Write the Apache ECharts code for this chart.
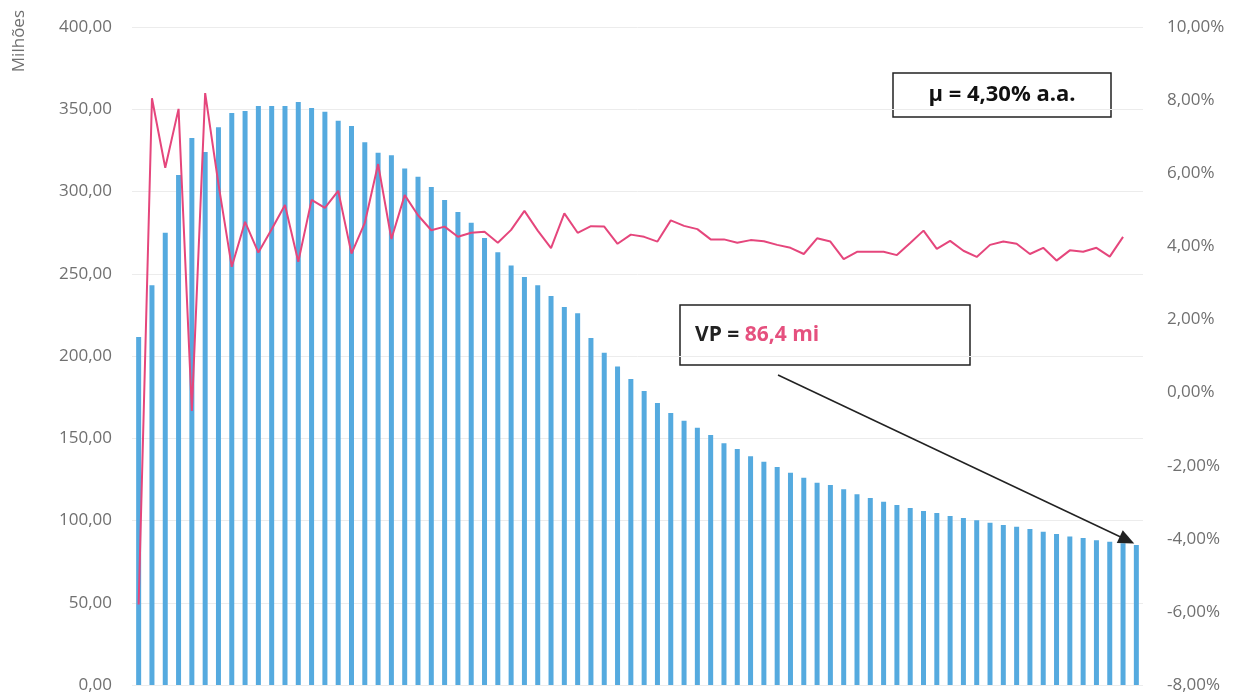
<!DOCTYPE html>
<html>
<head>
<meta charset="utf-8">
<script src="https://cdn.jsdelivr.net/npm/echarts@6/dist/echarts.min.js"></script>
<style>
  html, body { margin: 0; padding: 0; background: #fff; }
  #chart { width: 1239px; height: 695px; }
</style>
</head>
<body>
<div id="chart"></div>
<script>
// valores
var periods = [];
for (var i = 1; i <= 76; i++) periods.push(String(i));

// fluxo (milhões)
var flows = [211.6, 243, 275, 310, 332.5, 324, 339, 347.7, 349, 352,
    352, 352, 354.4, 350.8, 348.5, 343, 339.8, 330, 323.6, 322,
    314, 309, 302.7, 294.8, 287.5, 281, 271.7, 263, 255, 248,
    243, 236.5, 229.8, 226, 211, 202, 193.6, 186, 178.7, 171.4,
    165.3, 160.7, 156.4, 152, 147, 143.5, 139, 135.7, 132.5, 129,
    126, 123, 121.6, 119, 116, 113.7, 111.4, 109.4, 107.6, 105.8,
    104.6, 102.7, 101.5, 100.2, 98.7, 97.3, 96.2, 94.8, 93.2, 91.8,
    90.2, 89.3, 88, 87.1, 86.1, 85.1];

// taxa (% a.a.)
var rates = [-5.8, 8.05, 6.15, 7.76, -0.5, 8.19, 5.7, 3.44, 4.67, 3.83,
    4.47, 5.13, 3.58, 5.27, 5.05, 5.52, 3.8, 4.64, 6.25, 4.2,
    5.4, 4.85, 4.44, 4.54, 4.26, 4.37, 4.4, 4.1, 4.45, 4.97,
    4.43, 3.95, 4.9, 4.37, 4.55, 4.54, 4.07, 4.32, 4.26, 4.13,
    4.71, 4.56, 4.47, 4.19, 4.19, 4.1, 4.17, 4.14, 4.04, 3.96,
    3.79, 4.22, 4.13, 3.65, 3.85, 3.85, 3.85, 3.76, 4.09, 4.43,
    3.93, 4.15, 3.88, 3.71, 4.04, 4.13, 4.07, 3.79, 3.96, 3.61,
    3.89, 3.85, 3.96, 3.72, 4.26, null];

var muText = 'μ = 4,30% a.a.';
var vpLabel = 'VP = ';
var vpValue = '86,4 mi';

function fmt(v) {
    return v.toFixed(2).replace('.', ',');
}

var myChart = echarts.init(document.getElementById('chart'));

var labelStyle = {
    color: '#707070',
    fontSize: 17,
    fontFamily: 'Open Sans'
};

var option = {
    animation: false,
    backgroundColor: '#fff',
    grid: { left: 132, right: 96, top: 27, bottom: 10 },
    xAxis: {
        type: 'category',
        data: periods,
        axisLine: { show: false },
        axisTick: { show: false },
        axisLabel: { show: false }
    },
    yAxis: [{
        type: 'value',
        min: 0,
        max: 400,
        interval: 50,
        axisLabel: Object.assign({ margin: 20, formatter: fmt }, labelStyle),
        splitLine: { lineStyle: { color: '#ececec' } }
    }, {
        type: 'value',
        min: -8,
        max: 10,
        interval: 2,
        axisLabel: Object.assign({ margin: 24, formatter: function (v) { return fmt(v) + '%'; } }, labelStyle),
        splitLine: { show: false }
    }],
    series: [{
        name: 'Fluxo',
        type: 'bar',
        data: flows,
        barWidth: 5,
        itemStyle: { color: '#55aadf' },
        markLine: {
            silent: true,
            symbol: ['none', 'triangle'],
            symbolSize: [14, 16],
            label: { show: false },
            lineStyle: { color: '#222', width: 1.5, type: 'solid' },
            data: [[{ x: 778, y: 375 }, { x: 1127, y: 540 }]]
        }
    }, {
        name: 'Taxa',
        type: 'line',
        yAxisIndex: 1,
        data: rates,
        showSymbol: false,
        lineStyle: { color: '#e5467c', width: 2 },
        itemStyle: { color: '#e5467c' }
    }],
    graphic: [{
        type: 'text',
        left: 11,
        top: 10,
        rotation: Math.PI / 2,
        style: {
            text: 'Milhões',
            fill: '#707070',
            font: '17px "Open Sans"'
        }
    }, {
        type: 'rect',
        shape: { x: 893, y: 73, width: 218, height: 44 },
        style: { fill: '#fff', stroke: '#222', lineWidth: 1.5 }
    }, {
        type: 'text',
        x: 1002,
        y: 95,
        style: {
            text: muText,
            fill: '#111',
            font: 'bold 22px "Open Sans"',
            align: 'center',
            verticalAlign: 'middle'
        }
    }, {
        type: 'rect',
        shape: { x: 680, y: 305, width: 290, height: 60 },
        style: { fill: '#fff', stroke: '#222', lineWidth: 1.5 }
    }, {
        type: 'text',
        x: 695,
        y: 335,
        style: {
            text: '{a|' + vpLabel + '}{b|' + vpValue + '}',
            verticalAlign: 'middle',
            rich: {
                a: { fill: '#222', font: 'bold 21px "Open Sans"' },
                b: { fill: '#e5507e', font: 'bold 21px "Open Sans"' }
            }
        }
    }]
};

myChart.setOption(option);
</script>
</body>
</html>
